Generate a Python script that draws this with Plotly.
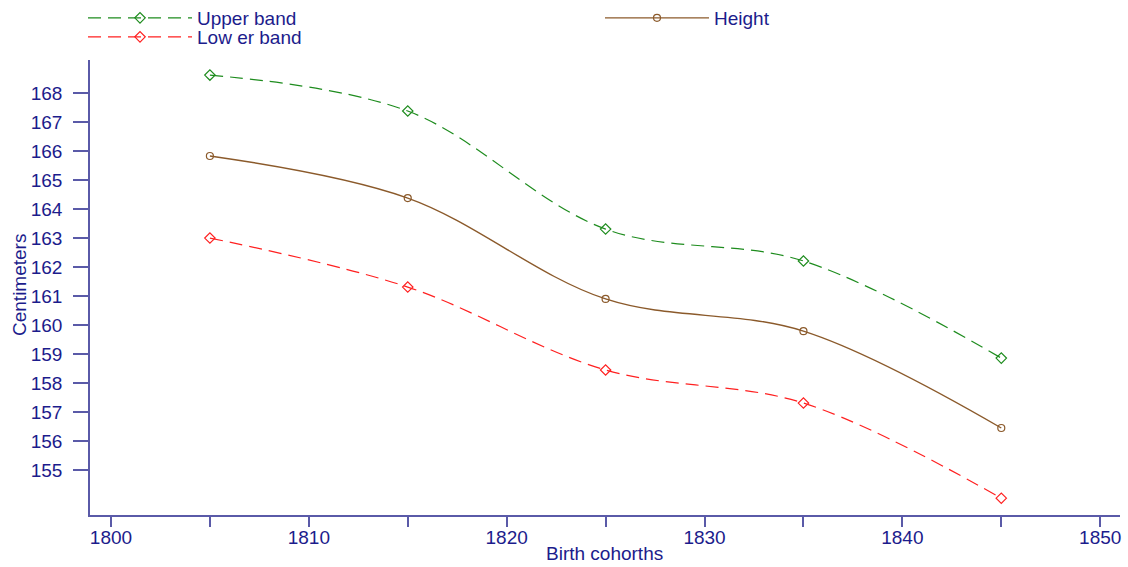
import plotly.graph_objects as go

# Birth cohorts and mean heights (cm) with their confidence bands
cohorts = [1805, 1815, 1825, 1835, 1845]
upper_band = [168.62, 167.38, 163.31, 162.21, 158.86]
height = [165.83, 164.38, 160.90, 159.79, 156.45]
lower_band = [163.00, 161.31, 158.45, 157.31, 154.03]

x_tick_vals = [1800, 1805, 1810, 1815, 1820, 1825, 1830, 1835, 1840, 1845, 1850]
x_tick_text = ["1800", "", "1810", "", "1820", "", "1830", "", "1840", "", "1850"]
y_tick_vals = list(range(155, 169))

NAVY = "#1c1c8c"
AXIS = "#5a5aa8"
FONT = "Liberation Sans, Arial, sans-serif"
W, H = 1128, 567
M_L, M_R, M_T, M_B = 90, 8, 60, 52
PW, PH = W - M_L - M_R, H - M_T - M_B

fig = go.Figure()

fig.add_trace(go.Scatter(
    x=cohorts, y=upper_band, name="Upper band", mode="lines+markers", legend="legend2",
    line=dict(color="#1e8c1e", width=1.2, dash="13px,7px", shape="spline", smoothing=1.0),
    marker=dict(symbol="diamond-open", size=8, color="#1e8c1e", line=dict(width=1.2)),
))
fig.add_trace(go.Scatter(
    x=cohorts, y=height, name="Height", mode="lines+markers", legend="legend4",
    line=dict(color="#8b5a2b", width=1.4, shape="spline", smoothing=1.0),
    marker=dict(symbol="circle-open", size=7, color="#8b5a2b", line=dict(width=1.2)),
))
fig.add_trace(go.Scatter(
    x=cohorts, y=lower_band, name="Low er band", mode="lines+markers", legend="legend3",
    line=dict(color="#ff2020", width=1.2, dash="13px,7px", shape="spline", smoothing=1.0),
    marker=dict(symbol="diamond-open", size=8, color="#ff2020", line=dict(width=1.2)),
))


def legend_box(left_px, center_px):
    # one legend per series, placed in container pixels
    return dict(
        x=(left_px - 5) / W, xref="container", xanchor="left",
        y=1 - center_px / H, yref="container", yanchor="middle",
        itemwidth=104, font=dict(size=19, color=NAVY, family=FONT),
        bgcolor="rgba(0,0,0,0)", borderwidth=0,
    )


def axis_title(text, cx, cy, angle=0):
    # axis title placed by its centre, given in page pixels
    return dict(
        text=text, showarrow=False, textangle=angle,
        xref="paper", yref="paper",
        x=(cx - M_L) / PW, y=(H - M_B - cy) / PH,
        xanchor="center", yanchor="middle",
        font=dict(size=19, color=NAVY, family=FONT),
    )


fig.update_layout(
    width=W, height=H,
    margin=dict(l=M_L, r=M_R, t=M_T, b=M_B, autoexpand=False),
    paper_bgcolor="white", plot_bgcolor="white",
    font=dict(family=FONT, size=19, color=NAVY),
    showlegend=True,
    legend2=legend_box(88, 18),
    legend3=legend_box(88, 37),
    legend4=legend_box(605, 18),
    xaxis=dict(
        range=[1798.94, 1851.0], tickmode="array",
        tickvals=x_tick_vals, ticktext=x_tick_text,
        ticks="outside", ticklen=10, tickwidth=1.5, tickcolor=AXIS,
        showline=True, linecolor=AXIS, linewidth=1.5,
        showgrid=False, zeroline=False, ticklabelstandoff=-6,
        tickfont=dict(size=19, color=NAVY),
    ),
    yaxis=dict(
        range=[153.45, 169.14], tickmode="array", tickvals=y_tick_vals,
        ticks="outside", ticklen=15, tickwidth=1.5, tickcolor=AXIS,
        showline=True, linecolor=AXIS, linewidth=1.5,
        showgrid=False, zeroline=False, ticklabelstandoff=7,
        tickfont=dict(size=19, color=NAVY),
    ),
    annotations=[
        axis_title("Birth cohorths", 604, 553),
        axis_title("Centimeters", 19, 285, angle=-90),
    ],
)

fig.write_html("out.html")
